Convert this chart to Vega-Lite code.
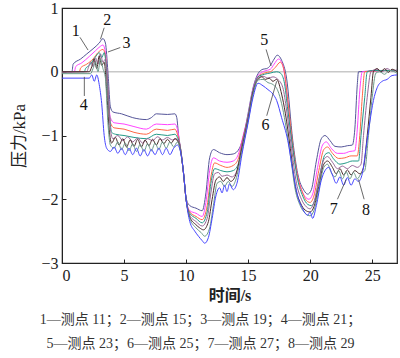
{
"$schema": "https://vega.github.io/schema/vega-lite/v6.json",
"width": 335, "height": 255,
"autosize": "none",
"padding": {"left": 62, "top": 8, "right": 3, "bottom": 95},
"background": "white",
"config": {"view": {"stroke": "#222", "strokeWidth": 1.2}, "font": "Liberation Serif"},
"title": {"text": ["1—测点 11；2—测点 15；3—测点 19；4—测点 21；", "5—测点 23；6—测点 25；7—测点 27；8—测点 29"], "orient": "bottom", "anchor": "middle", "font": "Liberation Serif, Noto Sans CJK SC", "fontSize": 14, "fontWeight": "normal", "color": "#333333", "lineHeight": 24, "offset": 10, "dx": -29},
"datasets": {
"labels": [
{"n": "1", "t": 1.1, "p": 0.64}, {"n": "2", "t": 3.65, "p": 0.81}, {"n": "3", "t": 5.2, "p": 0.45},
{"n": "4", "t": 1.75, "p": -0.52}, {"n": "5", "t": 16.3, "p": 0.5}, {"n": "6", "t": 16.4, "p": -0.83},
{"n": "7", "t": 21.9, "p": -2.15}, {"n": "8", "t": 24.5, "p": -2.17}],
"leaders": [
{"t": 1.45, "p": 0.54, "t2": 2.1, "p2": 0.34}, {"t": 3.4, "p": 0.69, "t2": 3.1, "p2": 0.51},
{"t": 4.7, "p": 0.38, "t2": 3.7, "p2": 0.31}, {"t": 1.8, "p": -0.38, "t2": 1.8, "p2": -0.08},
{"t": 16.45, "p": 0.35, "t2": 16.85, "p2": 0.09}, {"t": 16.5, "p": -0.69, "t2": 17.3, "p2": -0.15},
{"t": 22.2, "p": -2.0, "t2": 22.9, "p2": -1.69}, {"t": 24.35, "p": -2.0, "t2": 23.9, "p2": -1.69}]
},
"data": {"values": [
{"s":1,"t":0,"p":0},{"s":1,"t":0.8,"p":0},{"s":1,"t":0.9,"p":0.12},{"s":1,"t":1.5,"p":0.2},{"s":1,"t":2.0,"p":0.28},{"s":1,"t":2.5,"p":0.36},{"s":1,"t":3.0,"p":0.45},{"s":1,"t":3.3,"p":0.52},{"s":1,"t":3.5,"p":0.45},{"s":1,"t":3.7,"p":0.0},{"s":1,"t":3.9,"p":-0.55},{"s":1,"t":4.1,"p":-0.63},{"s":1,"t":4.8,"p":-0.66},{"s":1,"t":5.7,"p":-0.72},{"s":1,"t":6.8,"p":-0.75},{"s":1,"t":7.2,"p":-0.72},{"s":1,"t":7.6,"p":-0.66},{"s":1,"t":8.5,"p":-0.67},{"s":1,"t":9.1,"p":-0.66},{"s":1,"t":9.25,"p":-0.72},{"s":1,"t":9.4,"p":-1.0},{"s":1,"t":9.55,"p":-1.2},{"s":1,"t":9.8,"p":-1.6},{"s":1,"t":10.0,"p":-1.98},{"s":1,"t":10.3,"p":-2.1},{"s":1,"t":10.8,"p":-2.14},{"s":1,"t":11.3,"p":-2.18},{"s":1,"t":11.6,"p":-1.9},{"s":1,"t":11.9,"p":-1.35},{"s":1,"t":12.2,"p":-1.22},{"s":1,"t":12.7,"p":-1.27},{"s":1,"t":13.3,"p":-1.3},{"s":1,"t":13.8,"p":-1.29},{"s":1,"t":14.3,"p":-1.2},{"s":1,"t":14.7,"p":-0.95},{"s":1,"t":15.0,"p":-0.65},{"s":1,"t":15.4,"p":-0.25},{"s":1,"t":15.8,"p":-0.03},{"s":1,"t":16.2,"p":0.04},{"s":1,"t":16.5,"p":0.05},{"s":1,"t":16.8,"p":0.1},{"s":1,"t":17.1,"p":0.2},{"s":1,"t":17.35,"p":0.26},{"s":1,"t":17.7,"p":0.18},{"s":1,"t":18.1,"p":-0.1},{"s":1,"t":18.6,"p":-1.08},{"s":1,"t":19.0,"p":-1.6},{"s":1,"t":19.5,"p":-1.86},{"s":1,"t":19.8,"p":-1.92},{"s":1,"t":20.1,"p":-1.85},{"s":1,"t":20.5,"p":-1.4},{"s":1,"t":20.9,"p":-1.05},{"s":1,"t":21.2,"p":-1.0},{"s":1,"t":21.6,"p":-1.08},{"s":1,"t":22.0,"p":-1.17},{"s":1,"t":22.5,"p":-1.18},{"s":1,"t":23.0,"p":-1.16},{"s":1,"t":23.4,"p":-1.15},{"s":1,"t":23.6,"p":-0.9},{"s":1,"t":23.8,"p":-0.2},{"s":1,"t":23.9,"p":0.0},{"s":1,"t":25,"p":0.01},{"s":1,"t":26,"p":0.02},{"s":1,"t":27,"p":0.02},

{"s":2,"t":0,"p":0},{"s":2,"t":1.0,"p":0},{"s":2,"t":1.1,"p":0.08},{"s":2,"t":1.6,"p":0.14},{"s":2,"t":2.2,"p":0.24},{"s":2,"t":2.7,"p":0.33},{"s":2,"t":3.1,"p":0.4},{"s":2,"t":3.3,"p":0.42},{"s":2,"t":3.5,"p":0.3},{"s":2,"t":3.7,"p":-0.3},{"s":2,"t":3.9,"p":-0.72},{"s":2,"t":4.2,"p":-0.8},{"s":2,"t":5.0,"p":-0.82},{"s":2,"t":5.8,"p":-0.86},{"s":2,"t":6.8,"p":-0.9},{"s":2,"t":7.6,"p":-0.82},{"s":2,"t":8.5,"p":-0.83},{"s":2,"t":9.1,"p":-0.82},{"s":2,"t":9.3,"p":-0.9},{"s":2,"t":9.5,"p":-1.15},{"s":2,"t":9.8,"p":-1.6},{"s":2,"t":10.0,"p":-2.0},{"s":2,"t":10.3,"p":-2.18},{"s":2,"t":10.8,"p":-2.22},{"s":2,"t":11.3,"p":-2.27},{"s":2,"t":11.6,"p":-2.05},{"s":2,"t":11.9,"p":-1.55},{"s":2,"t":12.2,"p":-1.35},{"s":2,"t":12.7,"p":-1.4},{"s":2,"t":13.3,"p":-1.42},{"s":2,"t":13.8,"p":-1.4},{"s":2,"t":14.2,"p":-1.3},{"s":2,"t":14.6,"p":-1.0},{"s":2,"t":15.0,"p":-0.68},{"s":2,"t":15.4,"p":-0.27},{"s":2,"t":15.8,"p":-0.06},{"s":2,"t":16.3,"p":0.01},{"s":2,"t":16.8,"p":0.04},{"s":2,"t":17.1,"p":0.12},{"s":2,"t":17.45,"p":0.2},{"s":2,"t":17.8,"p":0.1},{"s":2,"t":18.1,"p":-0.3},{"s":2,"t":18.5,"p":-1.05},{"s":2,"t":18.9,"p":-1.55},{"s":2,"t":19.3,"p":-1.85},{"s":2,"t":19.6,"p":-1.96},{"s":2,"t":19.9,"p":-2.0},{"s":2,"t":20.2,"p":-1.92},{"s":2,"t":20.6,"p":-1.5},{"s":2,"t":21.0,"p":-1.15},{"s":2,"t":21.3,"p":-1.1},{"s":2,"t":21.7,"p":-1.2},{"s":2,"t":22.2,"p":-1.28},{"s":2,"t":22.7,"p":-1.28},{"s":2,"t":23.2,"p":-1.25},{"s":2,"t":23.6,"p":-1.24},{"s":2,"t":23.8,"p":-0.9},{"s":2,"t":24.0,"p":-0.3},{"s":2,"t":24.2,"p":0.0},{"s":2,"t":25,"p":0.01},{"s":2,"t":26,"p":0.02},{"s":2,"t":27,"p":0.02},

{"s":3,"t":0,"p":0},{"s":3,"t":1.4,"p":0},{"s":3,"t":1.5,"p":0.06},{"s":3,"t":2.0,"p":0.12},{"s":3,"t":2.5,"p":0.2},{"s":3,"t":2.9,"p":0.3},{"s":3,"t":3.3,"p":0.35},{"s":3,"t":3.5,"p":0.25},{"s":3,"t":3.7,"p":-0.3},{"s":3,"t":3.9,"p":-0.8},{"s":3,"t":4.2,"p":-0.88},{"s":3,"t":5.0,"p":-0.9},{"s":3,"t":5.8,"p":-0.95},{"s":3,"t":6.8,"p":-0.98},{"s":3,"t":7.6,"p":-0.9},{"s":3,"t":8.5,"p":-0.92},{"s":3,"t":9.1,"p":-0.9},{"s":3,"t":9.3,"p":-0.98},{"s":3,"t":9.5,"p":-1.15},{"s":3,"t":9.8,"p":-1.6},{"s":3,"t":10.0,"p":-2.0},{"s":3,"t":10.3,"p":-2.2},{"s":3,"t":10.8,"p":-2.27},{"s":3,"t":11.3,"p":-2.32},{"s":3,"t":11.7,"p":-2.1},{"s":3,"t":12.0,"p":-1.65},{"s":3,"t":12.3,"p":-1.43},{"s":3,"t":12.8,"p":-1.47},{"s":3,"t":13.3,"p":-1.5},{"s":3,"t":13.8,"p":-1.47},{"s":3,"t":14.2,"p":-1.37},{"s":3,"t":14.6,"p":-1.03},{"s":3,"t":15.0,"p":-0.7},{"s":3,"t":15.4,"p":-0.3},{"s":3,"t":15.8,"p":-0.08},{"s":3,"t":16.3,"p":-0.02},{"s":3,"t":16.8,"p":0.0},{"s":3,"t":17.2,"p":0.07},{"s":3,"t":17.6,"p":0.15},{"s":3,"t":17.9,"p":0.02},{"s":3,"t":18.2,"p":-0.45},{"s":3,"t":18.6,"p":-1.15},{"s":3,"t":19.0,"p":-1.65},{"s":3,"t":19.4,"p":-1.9},{"s":3,"t":19.7,"p":-2.02},{"s":3,"t":20.0,"p":-2.05},{"s":3,"t":20.3,"p":-1.95},{"s":3,"t":20.7,"p":-1.55},{"s":3,"t":21.1,"p":-1.22},{"s":3,"t":21.4,"p":-1.18},{"s":3,"t":21.8,"p":-1.28},{"s":3,"t":22.3,"p":-1.36},{"s":3,"t":22.8,"p":-1.35},{"s":3,"t":23.3,"p":-1.32},{"s":3,"t":23.8,"p":-1.32},{"s":3,"t":24.0,"p":-1.0},{"s":3,"t":24.2,"p":-0.4},{"s":3,"t":24.4,"p":0.0},{"s":3,"t":25,"p":0.01},{"s":3,"t":26,"p":0.02},{"s":3,"t":27,"p":0.02},

{"s":4,"t":0,"p":0},{"s":4,"t":1.8,"p":0},{"s":4,"t":1.9,"p":0.05},{"s":4,"t":2.2,"p":0.1},{"s":4,"t":2.5,"p":0.18},{"s":4,"t":2.8,"p":0.26},{"s":4,"t":3.0,"p":0.3},{"s":4,"t":3.2,"p":0.22},{"s":4,"t":3.4,"p":0.3},{"s":4,"t":3.6,"p":0.0},{"s":4,"t":3.8,"p":-0.6},{"s":4,"t":4.0,"p":-0.95},{"s":4,"t":4.3,"p":-0.98},{"s":4,"t":5.0,"p":-1.0},{"s":4,"t":5.8,"p":-1.03},{"s":4,"t":6.8,"p":-1.05},{"s":4,"t":7.6,"p":-0.98},{"s":4,"t":8.5,"p":-1.0},{"s":4,"t":9.1,"p":-0.98},{"s":4,"t":9.3,"p":-1.03},{"s":4,"t":9.5,"p":-1.15},{"s":4,"t":9.8,"p":-1.6},{"s":4,"t":10.0,"p":-2.0},{"s":4,"t":10.3,"p":-2.22},{"s":4,"t":10.8,"p":-2.3},{"s":4,"t":11.3,"p":-2.37},{"s":4,"t":11.7,"p":-2.2},{"s":4,"t":12.0,"p":-1.75},{"s":4,"t":12.3,"p":-1.52},{"s":4,"t":12.8,"p":-1.55},{"s":4,"t":13.3,"p":-1.57},{"s":4,"t":13.8,"p":-1.55},{"s":4,"t":14.2,"p":-1.45},{"s":4,"t":14.6,"p":-1.06},{"s":4,"t":15.0,"p":-0.7},{"s":4,"t":15.4,"p":-0.3},{"s":4,"t":15.8,"p":-0.08},{"s":4,"t":16.3,"p":-0.04},{"s":4,"t":16.8,"p":-0.02},{"s":4,"t":17.3,"p":0.0},{"s":4,"t":17.6,"p":-0.02},{"s":4,"t":17.9,"p":-0.15},{"s":4,"t":18.2,"p":-0.6},{"s":4,"t":18.6,"p":-1.2},{"s":4,"t":19.0,"p":-1.7},{"s":4,"t":19.4,"p":-1.95},{"s":4,"t":19.8,"p":-2.08},{"s":4,"t":20.1,"p":-2.1},{"s":4,"t":20.4,"p":-2.0},{"s":4,"t":20.8,"p":-1.6},{"s":4,"t":21.2,"p":-1.3},{"s":4,"t":21.5,"p":-1.27},{"s":4,"t":21.9,"p":-1.37},{"s":4,"t":22.4,"p":-1.45},{"s":4,"t":22.9,"p":-1.43},{"s":4,"t":23.4,"p":-1.4},{"s":4,"t":23.9,"p":-1.4},{"s":4,"t":24.1,"p":-1.0},{"s":4,"t":24.4,"p":-0.4},{"s":4,"t":24.6,"p":0.0},{"s":4,"t":25,"p":0.02},{"s":4,"t":26,"p":0.02},{"s":4,"t":27,"p":0.02},

{"s":5,"t":0,"p":0},{"s":5,"t":2.0,"p":0},{"s":5,"t":2.1,"p":0.05},{"s":5,"t":2.3,"p":0.15},{"s":5,"t":2.5,"p":0.08},{"s":5,"t":2.7,"p":0.22},{"s":5,"t":2.9,"p":0.12},{"s":5,"t":3.1,"p":0.28},{"s":5,"t":3.3,"p":0.15},{"s":5,"t":3.5,"p":0.2},{"s":5,"t":3.7,"p":-0.2},{"s":5,"t":3.9,"p":-0.9},{"s":5,"t":4.1,"p":-1.05},{"s":5,"t":4.5,"p":-1.0},{"s":5,"t":4.9,"p":-1.08},{"s":5,"t":5.3,"p":-1.02},{"s":5,"t":5.7,"p":-1.1},{"s":5,"t":6.1,"p":-1.04},{"s":5,"t":6.5,"p":-1.12},{"s":5,"t":6.9,"p":-1.05},{"s":5,"t":7.3,"p":-1.08},{"s":5,"t":7.7,"p":-1.02},{"s":5,"t":8.1,"p":-1.07},{"s":5,"t":8.5,"p":-1.03},{"s":5,"t":8.9,"p":-1.07},{"s":5,"t":9.2,"p":-1.05},{"s":5,"t":9.5,"p":-1.15},{"s":5,"t":9.8,"p":-1.6},{"s":5,"t":10.0,"p":-2.0},{"s":5,"t":10.3,"p":-2.25},{"s":5,"t":10.8,"p":-2.35},{"s":5,"t":11.3,"p":-2.42},{"s":5,"t":11.7,"p":-2.3},{"s":5,"t":12.0,"p":-1.9},{"s":5,"t":12.3,"p":-1.6},{"s":5,"t":12.6,"p":-1.58},{"s":5,"t":12.9,"p":-1.64},{"s":5,"t":13.3,"p":-1.62},{"s":5,"t":13.7,"p":-1.65},{"s":5,"t":14.1,"p":-1.55},{"s":5,"t":14.5,"p":-1.15},{"s":5,"t":15.0,"p":-0.72},{"s":5,"t":15.4,"p":-0.32},{"s":5,"t":15.8,"p":-0.1},{"s":5,"t":16.2,"p":-0.07},{"s":5,"t":16.6,"p":-0.1},{"s":5,"t":17.0,"p":-0.08},{"s":5,"t":17.4,"p":-0.12},{"s":5,"t":17.8,"p":-0.25},{"s":5,"t":18.1,"p":-0.6},{"s":5,"t":18.5,"p":-1.2},{"s":5,"t":18.9,"p":-1.75},{"s":5,"t":19.3,"p":-2.0},{"s":5,"t":19.7,"p":-2.12},{"s":5,"t":20.0,"p":-2.15},{"s":5,"t":20.3,"p":-2.05},{"s":5,"t":20.7,"p":-1.7},{"s":5,"t":21.1,"p":-1.38},{"s":5,"t":21.4,"p":-1.33},{"s":5,"t":21.8,"p":-1.42},{"s":5,"t":22.2,"p":-1.52},{"s":5,"t":22.6,"p":-1.48},{"s":5,"t":23.0,"p":-1.52},{"s":5,"t":23.4,"p":-1.47},{"s":5,"t":23.8,"p":-1.5},{"s":5,"t":24.1,"p":-1.45},{"s":5,"t":24.3,"p":-1.0},{"s":5,"t":24.6,"p":-0.4},{"s":5,"t":24.9,"p":0.0},{"s":5,"t":25.4,"p":0.04},{"s":5,"t":25.8,"p":0.0},{"s":5,"t":26.2,"p":0.05},{"s":5,"t":26.6,"p":0.01},{"s":5,"t":27,"p":0.03},

{"s":6,"t":0,"p":0},{"s":6,"t":2.2,"p":0},{"s":6,"t":2.4,"p":0.08},{"s":6,"t":2.6,"p":0.2},{"s":6,"t":2.8,"p":0.05},{"s":6,"t":3.0,"p":0.25},{"s":6,"t":3.2,"p":0.1},{"s":6,"t":3.4,"p":0.15},{"s":6,"t":3.6,"p":-0.3},{"s":6,"t":3.8,"p":-0.9},{"s":6,"t":4.0,"p":-1.12},{"s":6,"t":4.3,"p":-1.03},{"s":6,"t":4.6,"p":-1.15},{"s":6,"t":4.9,"p":-1.05},{"s":6,"t":5.2,"p":-1.18},{"s":6,"t":5.5,"p":-1.07},{"s":6,"t":5.8,"p":-1.17},{"s":6,"t":6.1,"p":-1.06},{"s":6,"t":6.4,"p":-1.18},{"s":6,"t":6.7,"p":-1.07},{"s":6,"t":7.0,"p":-1.16},{"s":6,"t":7.3,"p":-1.06},{"s":6,"t":7.6,"p":-1.15},{"s":6,"t":7.9,"p":-1.05},{"s":6,"t":8.2,"p":-1.13},{"s":6,"t":8.5,"p":-1.06},{"s":6,"t":8.8,"p":-1.12},{"s":6,"t":9.1,"p":-1.05},{"s":6,"t":9.4,"p":-1.12},{"s":6,"t":9.6,"p":-1.3},{"s":6,"t":9.8,"p":-1.6},{"s":6,"t":10.0,"p":-2.0},{"s":6,"t":10.3,"p":-2.28},{"s":6,"t":10.8,"p":-2.4},{"s":6,"t":11.1,"p":-2.45},{"s":6,"t":11.4,"p":-2.48},{"s":6,"t":11.8,"p":-2.35},{"s":6,"t":12.1,"p":-2.0},{"s":6,"t":12.4,"p":-1.7},{"s":6,"t":12.7,"p":-1.65},{"s":6,"t":13.0,"p":-1.72},{"s":6,"t":13.3,"p":-1.66},{"s":6,"t":13.6,"p":-1.72},{"s":6,"t":14.0,"p":-1.62},{"s":6,"t":14.5,"p":-1.2},{"s":6,"t":15.0,"p":-0.75},{"s":6,"t":15.4,"p":-0.32},{"s":6,"t":15.8,"p":-0.12},{"s":6,"t":16.1,"p":-0.08},{"s":6,"t":16.4,"p":-0.12},{"s":6,"t":16.7,"p":-0.1},{"s":6,"t":17.0,"p":-0.15},{"s":6,"t":17.3,"p":-0.12},{"s":6,"t":17.7,"p":-0.35},{"s":6,"t":18.0,"p":-0.65},{"s":6,"t":18.4,"p":-1.2},{"s":6,"t":18.8,"p":-1.8},{"s":6,"t":19.2,"p":-2.05},{"s":6,"t":19.6,"p":-2.17},{"s":6,"t":20.0,"p":-2.2},{"s":6,"t":20.3,"p":-2.12},{"s":6,"t":20.7,"p":-1.8},{"s":6,"t":21.1,"p":-1.45},{"s":6,"t":21.4,"p":-1.4},{"s":6,"t":21.8,"p":-1.5},{"s":6,"t":22.1,"p":-1.6},{"s":6,"t":22.4,"p":-1.52},{"s":6,"t":22.7,"p":-1.62},{"s":6,"t":23.0,"p":-1.54},{"s":6,"t":23.3,"p":-1.62},{"s":6,"t":23.6,"p":-1.55},{"s":6,"t":24.0,"p":-1.6},{"s":6,"t":24.3,"p":-1.5},{"s":6,"t":24.6,"p":-1.0},{"s":6,"t":24.9,"p":-0.4},{"s":6,"t":25.1,"p":0.0},{"s":6,"t":25.4,"p":0.05},{"s":6,"t":25.7,"p":0.0},{"s":6,"t":26.0,"p":0.05},{"s":6,"t":26.3,"p":-0.01},{"s":6,"t":26.6,"p":0.04},{"s":6,"t":27,"p":0.0},

{"s":7,"t":0,"p":-0.03},{"s":7,"t":2.3,"p":-0.03},{"s":7,"t":2.5,"p":0.05},{"s":7,"t":2.7,"p":0.15},{"s":7,"t":2.9,"p":0.0},{"s":7,"t":3.1,"p":0.2},{"s":7,"t":3.3,"p":0.05},{"s":7,"t":3.5,"p":-0.1},{"s":7,"t":3.7,"p":-0.8},{"s":7,"t":3.9,"p":-1.15},{"s":7,"t":4.2,"p":-1.2},{"s":7,"t":4.5,"p":-1.1},{"s":7,"t":4.8,"p":-1.22},{"s":7,"t":5.1,"p":-1.12},{"s":7,"t":5.4,"p":-1.24},{"s":7,"t":5.7,"p":-1.13},{"s":7,"t":6.0,"p":-1.25},{"s":7,"t":6.3,"p":-1.14},{"s":7,"t":6.6,"p":-1.25},{"s":7,"t":6.9,"p":-1.13},{"s":7,"t":7.2,"p":-1.24},{"s":7,"t":7.5,"p":-1.12},{"s":7,"t":7.8,"p":-1.22},{"s":7,"t":8.1,"p":-1.1},{"s":7,"t":8.4,"p":-1.2},{"s":7,"t":8.7,"p":-1.1},{"s":7,"t":9.0,"p":-1.18},{"s":7,"t":9.3,"p":-1.1},{"s":7,"t":9.6,"p":-1.3},{"s":7,"t":9.8,"p":-1.6},{"s":7,"t":10.0,"p":-2.0},{"s":7,"t":10.3,"p":-2.3},{"s":7,"t":10.8,"p":-2.45},{"s":7,"t":11.2,"p":-2.52},{"s":7,"t":11.5,"p":-2.58},{"s":7,"t":11.9,"p":-2.45},{"s":7,"t":12.2,"p":-2.1},{"s":7,"t":12.5,"p":-1.75},{"s":7,"t":12.8,"p":-1.72},{"s":7,"t":13.1,"p":-1.8},{"s":7,"t":13.4,"p":-1.72},{"s":7,"t":13.7,"p":-1.8},{"s":7,"t":14.0,"p":-1.7},{"s":7,"t":14.5,"p":-1.25},{"s":7,"t":15.0,"p":-0.78},{"s":7,"t":15.4,"p":-0.35},{"s":7,"t":15.8,"p":-0.13},{"s":7,"t":16.2,"p":-0.12},{"s":7,"t":16.6,"p":-0.17},{"s":7,"t":17.0,"p":-0.2},{"s":7,"t":17.4,"p":-0.3},{"s":7,"t":17.7,"p":-0.5},{"s":7,"t":18.0,"p":-0.8},{"s":7,"t":18.4,"p":-1.3},{"s":7,"t":18.8,"p":-1.85},{"s":7,"t":19.2,"p":-2.1},{"s":7,"t":19.6,"p":-2.22},{"s":7,"t":20.0,"p":-2.26},{"s":7,"t":20.3,"p":-2.18},{"s":7,"t":20.7,"p":-1.85},{"s":7,"t":21.1,"p":-1.5},{"s":7,"t":21.4,"p":-1.45},{"s":7,"t":21.7,"p":-1.58},{"s":7,"t":22.0,"p":-1.65},{"s":7,"t":22.3,"p":-1.55},{"s":7,"t":22.6,"p":-1.68},{"s":7,"t":22.9,"p":-1.57},{"s":7,"t":23.2,"p":-1.68},{"s":7,"t":23.5,"p":-1.58},{"s":7,"t":23.8,"p":-1.68},{"s":7,"t":24.1,"p":-1.6},{"s":7,"t":24.4,"p":-1.55},{"s":7,"t":24.7,"p":-1.0},{"s":7,"t":25.0,"p":-0.4},{"s":7,"t":25.3,"p":-0.02},{"s":7,"t":25.6,"p":0.0},{"s":7,"t":26.0,"p":-0.04},{"s":7,"t":26.4,"p":0.02},{"s":7,"t":27,"p":-0.02},

{"s":8,"t":0,"p":-0.1},{"s":8,"t":2.2,"p":-0.1},{"s":8,"t":2.4,"p":-0.05},{"s":8,"t":2.6,"p":-0.15},{"s":8,"t":2.8,"p":-0.05},{"s":8,"t":3.0,"p":-0.2},{"s":8,"t":3.2,"p":-0.5},{"s":8,"t":3.4,"p":-1.0},{"s":8,"t":3.6,"p":-1.2},{"s":8,"t":3.9,"p":-1.25},{"s":8,"t":4.2,"p":-1.18},{"s":8,"t":4.5,"p":-1.28},{"s":8,"t":4.8,"p":-1.2},{"s":8,"t":5.1,"p":-1.3},{"s":8,"t":5.4,"p":-1.2},{"s":8,"t":5.7,"p":-1.3},{"s":8,"t":6.0,"p":-1.2},{"s":8,"t":6.3,"p":-1.32},{"s":8,"t":6.6,"p":-1.22},{"s":8,"t":6.9,"p":-1.32},{"s":8,"t":7.2,"p":-1.22},{"s":8,"t":7.5,"p":-1.3},{"s":8,"t":7.8,"p":-1.2},{"s":8,"t":8.1,"p":-1.3},{"s":8,"t":8.4,"p":-1.2},{"s":8,"t":8.7,"p":-1.3},{"s":8,"t":9.0,"p":-1.2},{"s":8,"t":9.3,"p":-1.15},{"s":8,"t":9.6,"p":-1.3},{"s":8,"t":9.8,"p":-1.6},{"s":8,"t":10.0,"p":-2.0},{"s":8,"t":10.3,"p":-2.35},{"s":8,"t":10.7,"p":-2.5},{"s":8,"t":11.0,"p":-2.58},{"s":8,"t":11.3,"p":-2.65},{"s":8,"t":11.5,"p":-2.69},{"s":8,"t":11.8,"p":-2.6},{"s":8,"t":12.1,"p":-2.3},{"s":8,"t":12.4,"p":-1.95},{"s":8,"t":12.7,"p":-1.82},{"s":8,"t":12.9,"p":-1.9},{"s":8,"t":13.1,"p":-1.78},{"s":8,"t":13.3,"p":-1.88},{"s":8,"t":13.5,"p":-1.76},{"s":8,"t":13.8,"p":-1.85},{"s":8,"t":14.1,"p":-1.75},{"s":8,"t":14.5,"p":-1.3},{"s":8,"t":15.0,"p":-0.8},{"s":8,"t":15.4,"p":-0.4},{"s":8,"t":15.8,"p":-0.18},{"s":8,"t":16.2,"p":-0.22},{"s":8,"t":16.6,"p":-0.28},{"s":8,"t":17.0,"p":-0.35},{"s":8,"t":17.3,"p":-0.45},{"s":8,"t":17.7,"p":-0.72},{"s":8,"t":18.2,"p":-1.08},{"s":8,"t":18.6,"p":-1.55},{"s":8,"t":19.0,"p":-1.95},{"s":8,"t":19.4,"p":-2.15},{"s":8,"t":19.8,"p":-2.25},{"s":8,"t":20.0,"p":-2.2},{"s":8,"t":20.2,"p":-2.3},{"s":8,"t":20.5,"p":-2.1},{"s":8,"t":20.9,"p":-1.7},{"s":8,"t":21.2,"p":-1.55},{"s":8,"t":21.5,"p":-1.5},{"s":8,"t":21.8,"p":-1.62},{"s":8,"t":22.1,"p":-1.75},{"s":8,"t":22.4,"p":-1.65},{"s":8,"t":22.7,"p":-1.78},{"s":8,"t":23.0,"p":-1.66},{"s":8,"t":23.3,"p":-1.78},{"s":8,"t":23.6,"p":-1.68},{"s":8,"t":23.9,"p":-1.72},{"s":8,"t":24.2,"p":-1.6},{"s":8,"t":24.5,"p":-1.2},{"s":8,"t":24.8,"p":-0.8},{"s":8,"t":25.1,"p":-0.45},{"s":8,"t":25.4,"p":-0.25},{"s":8,"t":25.8,"p":-0.15},{"s":8,"t":26.2,"p":-0.12},{"s":8,"t":26.6,"p":-0.06},{"s":8,"t":27,"p":-0.05}
]},
"layer": [
{"mark": {"type": "rule", "color": "#c8c8c8", "strokeWidth": 1.5}, "data": {"values": [{"z": 0}]}, "encoding": {"y": {"field": "z", "type": "quantitative", "scale": {"domain": [-3, 1]}}}},
{"mark": {"type": "line", "strokeWidth": 1, "interpolate": "monotone"},
 "encoding": {
  "x": {"field": "t", "type": "quantitative", "scale": {"domain": [0, 27], "nice": false},
        "axis": {"title": "时间/s", "values": [0,5,10,15,20,25], "format": "d", "grid": false, "tickSize": -4, "tickColor": "#222", "domainColor": "#222", "labelFont": "Liberation Serif", "labelFontSize": 16, "labelColor": "#222", "labelPadding": 8, "titleFont": "Liberation Serif, Noto Sans CJK SC", "titleFontSize": 16, "titleFontWeight": "bold", "titleColor": "#222", "titlePadding": 4}},
  "y": {"field": "p", "type": "quantitative", "scale": {"domain": [-3, 1], "nice": false},
        "axis": {"title": "压力/kPa", "values": [-3,-2,-1,0,1], "format": "d", "grid": false, "tickSize": -4, "tickColor": "#222", "domainColor": "#222", "labelFont": "Liberation Serif", "labelFontSize": 16, "labelColor": "#222", "labelPadding": 8, "titleFont": "Liberation Serif, Noto Sans CJK SC", "titleFontSize": 17, "titleFontWeight": "normal", "titleColor": "#222", "titlePadding": 12}},
  "color": {"field": "s", "type": "nominal", "legend": null,
            "scale": {"domain": [1,2,3,4,5,6,7,8], "range": ["#555599", "#ff44ff", "#ff6644", "#229988", "#996699", "#4a2a2a", "#6a9a8a", "#4444ff"]}},
  "order": {"field": "t", "type": "quantitative"}
 }},
{"data": {"name": "leaders"}, "mark": {"type": "rule", "color": "#444", "strokeWidth": 0.8},
 "encoding": {"x": {"field": "t", "type": "quantitative"}, "y": {"field": "p", "type": "quantitative"}, "x2": {"field": "t2"}, "y2": {"field": "p2"}}},
{"data": {"name": "labels"}, "mark": {"type": "text", "font": "Liberation Serif", "fontSize": 16, "color": "#111"},
 "encoding": {"x": {"field": "t", "type": "quantitative"}, "y": {"field": "p", "type": "quantitative"}, "text": {"field": "n"}}}
]
}
